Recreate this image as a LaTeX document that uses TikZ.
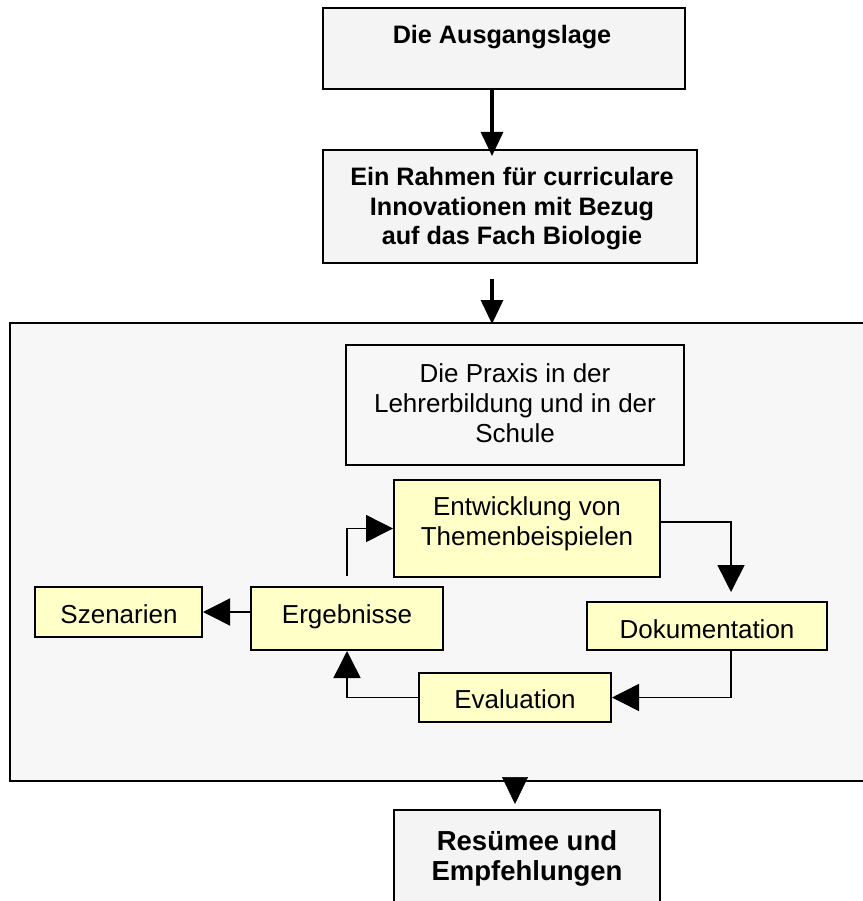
\documentclass[tikz,border=0pt]{standalone}
\usepackage{fontspec}
\setmainfont{Liberation Sans}
\usetikzlibrary{arrows.meta}
\definecolor{panelgray}{HTML}{F7F7F7}
\definecolor{boxgray}{HTML}{F4F4F4}
\definecolor{noteyellow}{HTML}{FFFFC8}
\newcommand\lstrut{\rule[-7pt]{0pt}{29pt}}
\tikzset{
  boxframe/.style={draw=black, line width=2pt, inner sep=0pt},
  graybox/.style={boxframe, fill=boxgray},
  panelbox/.style={boxframe, fill=panelgray},
  yellowbox/.style={boxframe, fill=noteyellow},
  txt/.style={anchor=north, inner sep=0pt, align=center},
  headtxt/.style={txt, font=\bfseries\fontsize{25.2}{29.5}\selectfont},
  endtxt/.style={txt, font=\bfseries\fontsize{27.5}{28.5}\selectfont},
  bodytxt/.style={txt, font=\fontsize{26}{30}\selectfont},
  conn/.style={line width=1.5pt, -{Triangle[length=27pt,width=27pt]}},
  mainconn/.style={line width=3.2pt, -{Triangle[length=24pt,width=22pt]}},
}
\begin{document}
\begin{tikzpicture}[x=1pt,y=-1pt]
\useasboundingbox (0,0) rectangle (862,901);
\fill[white] (0,0) rectangle (862,901);

% column coordinates
\coordinate (xa) at (492,0);
\coordinate (xb) at (515,0);
\coordinate (xr) at (731,0);

% top boxes
\node[graybox, minimum width=362pt, minimum height=81pt] (ausgang) at (504,48.5) {};
\node[headtxt] (ausgangT) at (502,21) {\lstrut Die Ausgangslage};

\node[graybox, minimum width=374pt, minimum height=113pt] (rahmen) at (510,206.5) {};
\node[headtxt] (rahmenT) at (512,163.5) {\lstrut Ein Rahmen für curriculare\\\lstrut Innovationen mit Bezug\\\lstrut auf das Fach Biologie};

% big panel
\node[panelbox, minimum width=870pt, minimum height=458pt] (panel) at (445,552) {};

\node[panelbox, minimum width=338pt, minimum height=120pt] (praxis) at (515,405) {};
\node[bodytxt] (praxisT) at (515,360) {\lstrut Die Praxis in der\\\lstrut Lehrerbildung und in der\\\lstrut Schule};

\node[yellowbox, minimum width=266pt, minimum height=97pt] (entw) at (527,528.5) {};
\node[bodytxt] (entwT) at (527,493) {\lstrut Entwicklung von\\\lstrut Themenbeispielen};

\node[yellowbox, minimum width=167pt, minimum height=50pt] (szen) at (118.5,612) {};
\node[bodytxt] (szenT) at (119,601) {\lstrut Szenarien};

\node[yellowbox, minimum width=192pt, minimum height=63pt] (ergeb) at (347,618.5) {};
\node[bodytxt] (ergebT) at (347,601) {\lstrut Ergebnisse};

\node[yellowbox, minimum width=240pt, minimum height=48pt] (dok) at (707,626) {};
\node[bodytxt] (dokT) at (707,616) {\lstrut Dokumentation};

\node[yellowbox, minimum width=192pt, minimum height=49pt] (eval) at (515,697.5) {};
\node[bodytxt] (evalT) at (515,686) {\lstrut Evaluation};

% bottom box
\node[graybox, minimum width=266pt, minimum height=120pt] (resuemee) at (527,870) {};
\node[endtxt] (resuemeeT) at (527,828) {\lstrut Resümee und\\\lstrut Empfehlungen};

% main connectors
\draw[mainconn, shorten >=-7pt] (ausgang.south -| xa) -- (rahmen.north -| xa);
\draw[mainconn, shorten <=15pt, shorten >=-2pt] (rahmen.south -| xa) -- (panel.north -| xa);
\draw[line width=0.5pt, -{Triangle[length=27pt,width=26pt]}, shorten <=-3pt, shorten >=5pt] (panel.south -| xb) -- (resuemee.north -| xb);

% inner cycle
\draw[conn, shorten >=9pt] ([yshift=6.5pt]entw.east) -| (dok.north -| xr);
\draw[conn] (dok.south -| xr) |- (eval.east);
\draw[conn] (eval.west) -| (ergeb.south);
\draw[conn] ([yshift=10pt]ergeb.north) |- (entw.west);
\draw[conn] (ergeb.west |- szen.east) -- (szen.east);
\end{tikzpicture}
\end{document}
